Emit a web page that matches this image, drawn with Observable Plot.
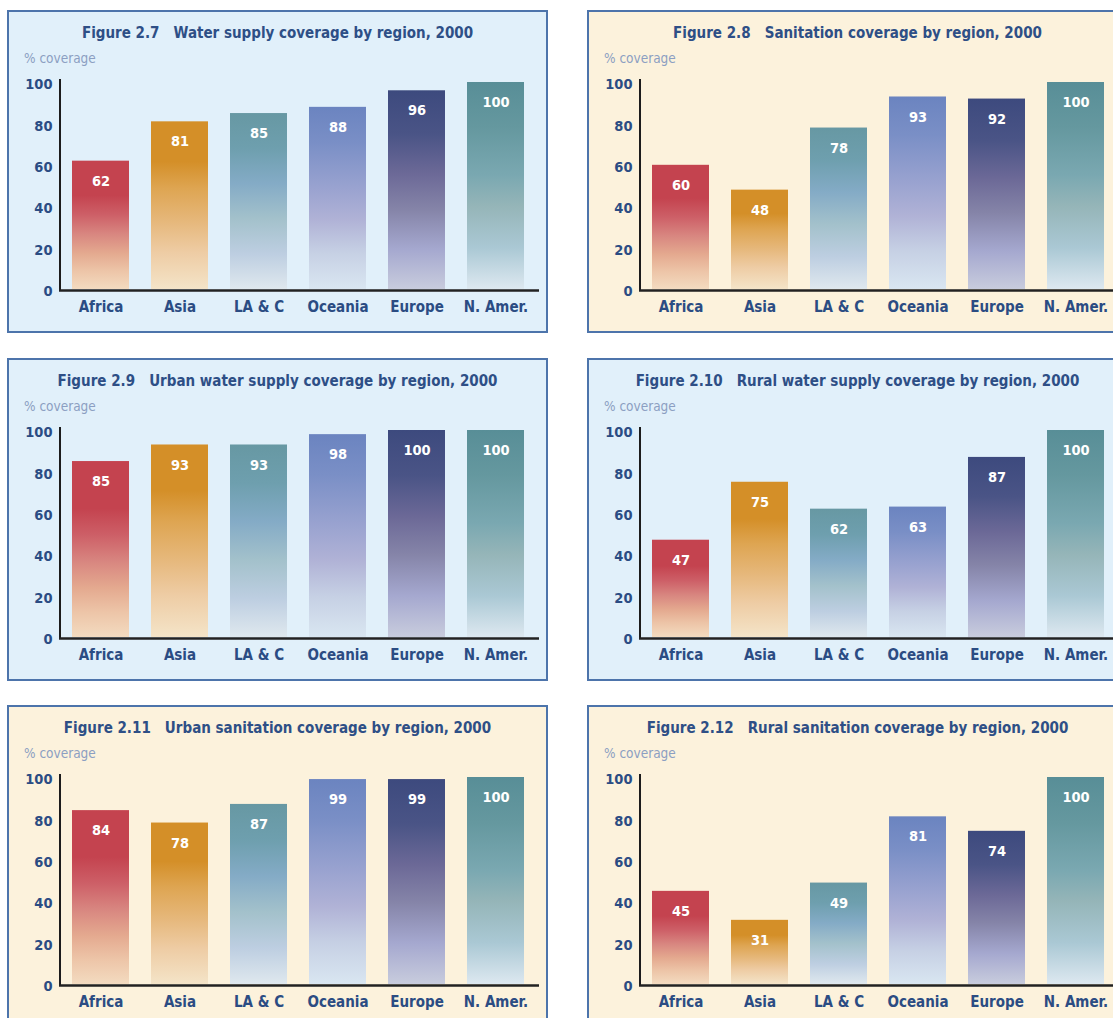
<!DOCTYPE html>
<html><head><meta charset="utf-8">
<script src="https://cdn.jsdelivr.net/npm/d3@7"></script>
<script src="https://cdn.jsdelivr.net/npm/@observablehq/plot@0.6"></script>
<style>
body{margin:0;background:#fff;width:1113px;height:1018px;overflow:hidden;position:relative;font-family:"DejaVu Sans Condensed","DejaVu Sans",sans-serif;}
.panel{position:absolute;width:541px;height:323px;box-sizing:border-box;border:2px solid #4d74ab;}
.water{background:#e1f0fa}
.san{background:#fcf2dc}
.title{position:absolute;left:0;right:0;top:12px;text-align:center;font-weight:bold;font-size:15px;color:#2e4f86;white-space:pre;}
.sub{position:absolute;left:15px;top:38px;font-size:13.5px;color:#8c9fc2;}
.panel svg{position:absolute;left:0;top:0;}
</style></head><body>
<script>
// ---- data ----
const regions = ["Africa", "Asia", "LA & C", "Oceania", "Europe", "N. Amer."];
const yTicks = [0, 20, 40, 60, 80, 100];
const figTitles = [
  "Figure 2.7   Water supply coverage by region, 2000",
  "Figure 2.8   Sanitation coverage by region, 2000",
  "Figure 2.9   Urban water supply coverage by region, 2000",
  "Figure 2.10   Rural water supply coverage by region, 2000",
  "Figure 2.11   Urban sanitation coverage by region, 2000",
  "Figure 2.12   Rural sanitation coverage by region, 2000"
];
const figKinds = ["water", "san", "water", "water", "san", "san"];
const waterSupply = [62, 81, 85, 88, 96, 100];
const sanitation = [60, 48, 78, 93, 92, 100];
const urbanWater = [85, 93, 93, 98, 100, 100];
const ruralWater = [47, 75, 62, 63, 87, 100];
const urbanSanitation = [84, 78, 87, 99, 99, 100];
const ruralSanitation = [45, 31, 49, 81, 74, 100];
const series = [waterSupply, sanitation, urbanWater, ruralWater, urbanSanitation, ruralSanitation];
const yLabel = "% coverage";

// ---- styles ----
const gradients = [
  [[0,"#c4434f"],[0.27,"#c4434f"],[0.42,"#cd5f67"],[0.57,"#d88680"],[0.72,"#e4a98f"],[0.86,"#edc5a8"],[1,"#f3dbc0"]],
  [[0,"#d48f28"],[0.24,"#d48f28"],[0.4,"#dea552"],[0.6,"#e6b87c"],[0.78,"#eecca4"],[1,"#f4e4c8"]],
  [[0,"#6798a3"],[0.2,"#6e9fae"],[0.4,"#84abc6"],[0.6,"#a3c1cb"],[0.8,"#bdcee1"],[1,"#dfe8ee"]],
  [[0,"#6b84c0"],[0.2,"#7a8fc6"],[0.45,"#9aa3d0"],[0.62,"#b0b2d6"],[0.8,"#c6d0e4"],[1,"#d9e6f1"]],
  [[0,"#3d4a7e"],[0.22,"#4a5486"],[0.42,"#6c6997"],[0.6,"#8584a8"],[0.8,"#a5a8cf"],[1,"#c8ccdd"]],
  [[0,"#588e97"],[0.22,"#65989f"],[0.45,"#7aa8b1"],[0.6,"#95b5b8"],[0.8,"#aac8d4"],[1,"#dde8f0"]]
];
const panelLeft = [7, 587];
const panelTop = [10, 358, 705];

function decor(pid) {
  return (index, scales, values, dimensions) => {
    const g = d3.create("svg:g");
    const defs = g.append("defs");
    regions.forEach((r, i) => {
      const lg = defs.append("linearGradient").attr("id", `${pid}-g${i}`)
        .attr("x1", 0).attr("y1", 0).attr("x2", 0).attr("y2", 1);
      gradients[i].forEach(([o, c]) => lg.append("stop").attr("offset", o).attr("stop-color", c));
    });
    g.append("line")
      .attr("x1", dimensions.marginLeft).attr("x2", dimensions.marginLeft)
      .attr("y1", scales.y(100) - 3).attr("y2", scales.y(0) + 1)
      .attr("stroke", "#1c1c1c").attr("stroke-width", 2);
    return g.node();
  };
}

series.forEach((vals, k) => {
  const pid = "p" + k;
  const data = regions.map((r, i) => ({region: r, value: vals[i], fill: `url(#${pid}-g${i})`}));
  const panel = document.createElement("div");
  panel.className = "panel " + figKinds[k];
  panel.style.left = panelLeft[k % 2] + "px";
  panel.style.top = panelTop[Math.floor(k / 2)] + "px";
  const t = document.createElement("div"); t.className = "title"; t.textContent = figTitles[k];
  const s = document.createElement("div"); s.className = "sub"; s.textContent = yLabel;
  const chart = Plot.plot({
    width: 537, height: 319,
    marginLeft: 51, marginRight: 11, marginTop: 70, marginBottom: 42,
    style: {background: "transparent", color: "#2b4c83", fontFamily: '"DejaVu Sans Condensed","DejaVu Sans",sans-serif', fontWeight: "bold", fontSize: "14px", overflow: "visible"},
    x: {domain: regions, paddingInner: 0.28, paddingOuter: 0.14, label: null},
    y: {domain: [0, 100], label: null},
    color: {type: "identity"},
    marks: [
      decor(pid),
      Plot.barY(data, {x: "region", y: "value", fill: "fill"}),
      Plot.ruleY([0], {stroke: "#222", strokeWidth: 2.5, dy: 1, insetRight: -4, insetLeft: -1}),
      Plot.text(data, {x: "region", y: "value", text: d => String(d.value), dy: 20, fill: "white", fontSize: 14.5, fontWeight: "bold"}),
      Plot.axisY({ticks: yTicks, tickSize: 0, tickPadding: 8, dy: 2, fontSize: 14.5, label: null}),
      Plot.axisX({tickSize: 0, tickPadding: 12, fontSize: 15, label: null})
    ]
  });
  panel.appendChild(chart);
  panel.appendChild(t);
  panel.appendChild(s);
  document.body.appendChild(panel);
});
</script>
</body></html>
